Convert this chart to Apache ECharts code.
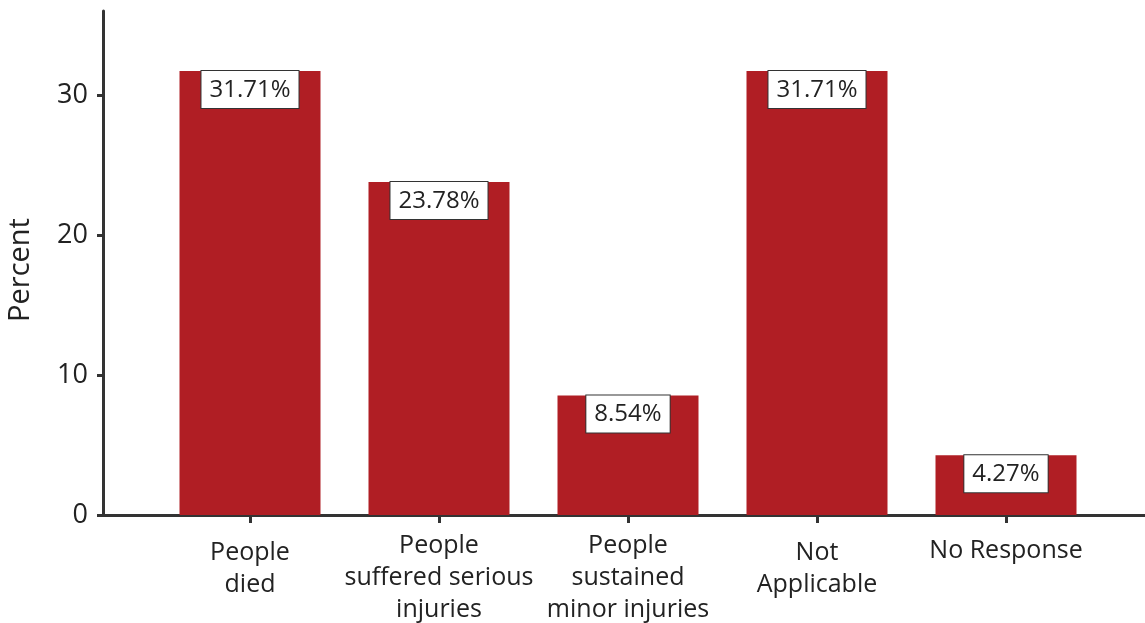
<!DOCTYPE html>
<html>
<head>
<meta charset="utf-8">
<title>Percent by outcome</title>
<script src="https://cdn.jsdelivr.net/npm/echarts@6/dist/echarts.min.js"></script>
<style>
  html, body { margin: 0; padding: 0; background: #fff; }
  #chart { width: 1145px; height: 623px; }
</style>
</head>
<body>
<div id="chart"></div>
<script>
// Outcome categories and their share of responses (percent)
const categories = [
  'People\ndied',
  'People\nsuffered serious\ninjuries',
  'People\nsustained\nminor injuries',
  'Not\nApplicable',
  'No Response'
];
const percents = [31.71, 23.78, 8.54, 31.71, 4.27];
const yTicks = [0, 10, 20, 30];

const FONT = '"Open Sans"';
const INK = '#222';
const AXIS = '#333';
const BAR = '#B01E24';

// shorter labels sit a little lower under their tick
const categoryItems = categories.map(name => {
  const lines = name.split('\n').length;
  return { value: name, textStyle: { padding: [lines === 3 ? 0 : (lines === 2 ? 7 : 5), 0, 0, 0] } };
});

const chart = echarts.init(document.getElementById('chart'), null, { renderer: 'canvas' });

chart.setOption({
  backgroundColor: '#fff',
  animation: false,
  textStyle: { fontFamily: FONT },
  grid: [
    // frame: y axis and the full-width baseline
    { left: 103, right: 0, top: 11, bottom: 108, outerBoundsMode: 'none' },
    // bars
    { left: 155.5, right: 44.5, top: 11, bottom: 108, outerBoundsMode: 'none' }
  ],
  xAxis: [
    {
      gridIndex: 0, type: 'value', min: 0, max: 1,
      axisLine: { show: true, onZero: false, lineStyle: { color: AXIS, width: 3 } },
      axisTick: { show: false }, axisLabel: { show: false }, splitLine: { show: false }
    },
    {
      gridIndex: 1, type: 'category', data: categoryItems,
      axisLine: { show: false },
      axisTick: { show: true, alignWithLabel: true, length: 8, lineStyle: { color: AXIS, width: 3 } },
      axisLabel: { fontFamily: FONT, fontSize: 25, color: INK, lineHeight: 32, margin: 15, interval: 0 },
      splitLine: { show: false }
    }
  ],
  yAxis: [
    {
      gridIndex: 0, type: 'value', min: 0, max: 36, interval: 10,
      name: 'Percent', nameLocation: 'middle', nameGap: 68, nameRotate: 90,
      nameTextStyle: { fontFamily: FONT, fontSize: 29, color: INK, padding: [0, 14, 0, 0] },
      axisLine: { show: true, lineStyle: { color: AXIS, width: 3 } },
      axisTick: { show: true, length: 6, customValues: yTicks, lineStyle: { color: AXIS, width: 3 } },
      axisLabel: { fontFamily: FONT, fontSize: 27, color: INK, margin: 15, customValues: yTicks },
      splitLine: { show: false }
    },
    {
      gridIndex: 1, type: 'value', min: 0, max: 36, show: false,
      splitLine: { show: false }
    }
  ],
  series: [{
    type: 'bar',
    xAxisIndex: 1,
    yAxisIndex: 1,
    data: percents,
    barWidth: 141,
    itemStyle: { color: BAR },
    label: {
      show: true,
      position: 'insideTop',
      distance: 0,
      formatter: p => p.value.toFixed(2) + '%',
      fontFamily: FONT,
      fontSize: 24,
      color: INK,
      backgroundColor: '#fff',
      borderColor: '#333',
      borderWidth: 1,
      padding: [7, 8, 6, 8]
    }
  }]
});
</script>
</body>
</html>
